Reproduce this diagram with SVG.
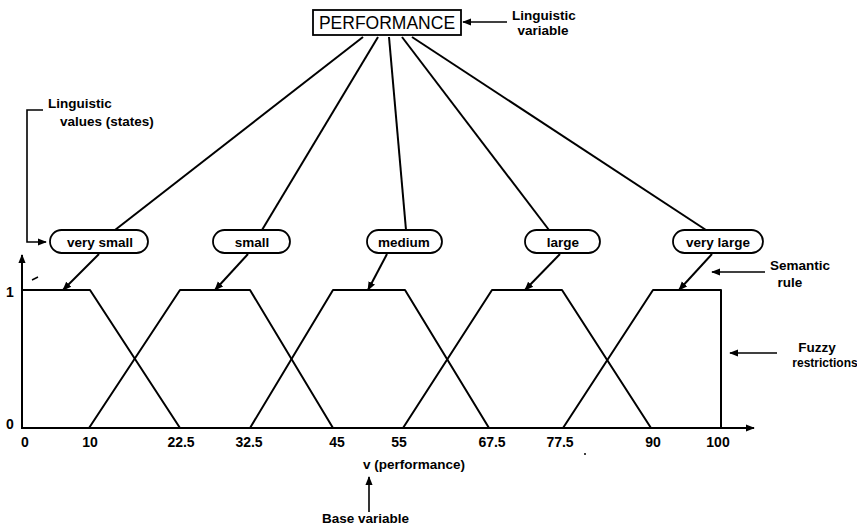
<svg xmlns="http://www.w3.org/2000/svg" width="857" height="529" viewBox="0 0 857 529">
<style>
text{font-family:"Liberation Sans",Arial,sans-serif;font-weight:bold;font-size:13.5px;fill:#000}
.t{font-size:14px;text-anchor:middle}
.c{text-anchor:middle}
.ln{stroke:#000;stroke-width:2;fill:none;stroke-linejoin:round}
.thin{stroke:#000;stroke-width:1.6;fill:none}
.node rect{fill:#fff;stroke:#000;stroke-width:1.8}
</style>
<defs>
<marker id="ah" viewBox="0 0 10 10" refX="9" refY="5" markerWidth="9" markerHeight="9" markerUnits="userSpaceOnUse" orient="auto">
<path d="M0,1 L10,5 L0,9 Z" fill="#000"/>
</marker>
</defs>
<rect width="857" height="529" fill="#fff"/>

<g id="connectors">
<line class="ln" x1="363" y1="37" x2="115" y2="230"/>
<line class="ln" x1="378" y1="37" x2="262" y2="230"/>
<line class="ln" x1="389" y1="37" x2="406" y2="230"/>
<line class="ln" x1="402" y1="37" x2="549" y2="230"/>
<line class="ln" x1="412" y1="37" x2="706" y2="230"/>
<line class="ln" x1="99" y1="254" x2="63" y2="290" marker-end="url(#ah)"/>
<line class="ln" x1="248" y1="254" x2="215" y2="290" marker-end="url(#ah)"/>
<line class="ln" x1="387" y1="254" x2="368" y2="290" marker-end="url(#ah)"/>
<line class="ln" x1="560" y1="254" x2="525" y2="290" marker-end="url(#ah)"/>
<line class="ln" x1="712" y1="254" x2="679" y2="290" marker-end="url(#ah)"/>
<line class="thin" x1="507" y1="22" x2="463" y2="22" marker-end="url(#ah)"/>
<polyline class="thin" points="43,110 27,110 27,242 46,242" marker-end="url(#ah)"/>
<line class="thin" x1="765" y1="272" x2="712" y2="272" marker-end="url(#ah)"/>
<line class="thin" x1="777" y1="353" x2="730" y2="353" marker-end="url(#ah)"/>
<line class="thin" x1="369" y1="512" x2="369" y2="477" marker-end="url(#ah)"/>
</g>

<g id="axes">
<line class="ln" x1="22" y1="429" x2="22" y2="255" marker-end="url(#ah)"/>
<line class="ln" x1="22" y1="428" x2="754" y2="428" marker-end="url(#ah)"/>
</g>

<g id="fuzzy-sets">
<polyline class="ln" points="22,290 90,290 180,428"/>
<polyline class="ln" points="89,428 180,290 250,290 333,428"/>
<polyline class="ln" points="250,428 333,290 405,290 489,428"/>
<polyline class="ln" points="403,428 492,290 562,290 651,428"/>
<polyline class="ln" points="563,428 653,290 721,290 721,428"/>
</g>

<g id="performance" class="node">
<rect x="313" y="10" width="148" height="25"/>
<text x="387" y="29" class="c" style="font-weight:normal;font-size:17.5px">PERFORMANCE</text>
</g>
<g id="very-small" class="node">
<rect x="50" y="230" width="98" height="23" rx="11.5"/>
<text x="100" y="246.5" class="c">very small</text>
</g>
<g id="small" class="node">
<rect x="213" y="230" width="77" height="23" rx="11.5"/>
<text x="252" y="246.5" class="c">small</text>
</g>
<g id="medium" class="node">
<rect x="367" y="230" width="75" height="23" rx="11.5"/>
<text x="404" y="246.5" class="c">medium</text>
</g>
<g id="large" class="node">
<rect x="525" y="230" width="75" height="23" rx="11.5"/>
<text x="563" y="246.5" class="c">large</text>
</g>
<g id="very-large" class="node">
<rect x="673" y="230" width="90" height="23" rx="11.5"/>
<text x="718" y="246.5" class="c">very large</text>
</g>

<g id="labels">
<text x="512" y="20">Linguistic</text>
<text x="543" y="35" class="c">variable</text>
<text x="48" y="108">Linguistic</text>
<text x="60" y="126">values (states)</text>
<text x="770" y="270">Semantic</text>
<text x="790" y="287" class="c">rule</text>
<text x="817" y="352" class="c">Fuzzy</text>
<text x="825" y="367" class="c" style="font-size:12px">restrictions</text>
<text x="363" y="469">v (performance)</text>
<text x="322" y="523">Base variable</text>
</g>

<g id="ticks">
<text x="10" y="297" class="t">1</text>
<text x="10" y="429" class="t">0</text>
<text x="25" y="447" class="t">0</text>
<text x="90" y="447" class="t">10</text>
<text x="181" y="447" class="t">22.5</text>
<text x="249" y="447" class="t">32.5</text>
<text x="337" y="447" class="t">45</text>
<text x="399" y="447" class="t">55</text>
<text x="492" y="447" class="t">67.5</text>
<text x="560" y="447" class="t">77.5</text>
<text x="653" y="447" class="t">90</text>
<text x="718" y="447" class="t">100</text>
</g>

<g id="marks">
<line x1="32" y1="280" x2="38" y2="277" stroke="#000" stroke-width="1.5"/>
<circle cx="585" cy="454" r="1" fill="#000"/>
</g>
</svg>
